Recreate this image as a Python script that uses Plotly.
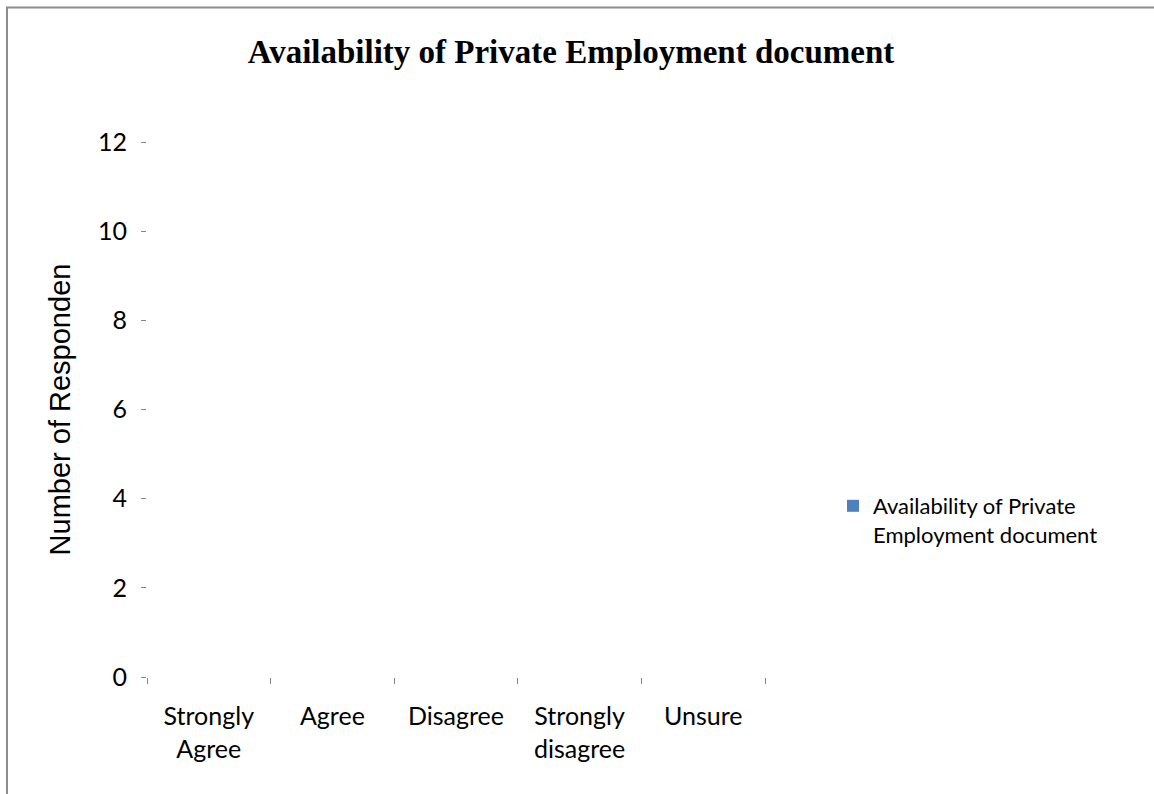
import plotly.graph_objects as go

# Survey responses on the availability of the private employment document
categories = ["Strongly<br>Agree", "Agree", "Disagree", "Strongly<br>disagree", "Unsure"]
responses = [0, 0, 0, 0, 0]
series_name = "Availability of Private<br>Employment document"
y_ticks = [0, 2, 4, 6, 8, 10, 12]

W, H = 1154, 794
L, R, T, B = 147, 389, 142, 117
pw, ph = W - L - R, H - T - B

fig = go.Figure(
    go.Bar(
        x=categories,
        y=responses,
        name=series_name,
        marker=dict(color="#4F81BD", line=dict(width=0)),
        width=0.6,
        showlegend=True,
    )
)

tick_font = dict(family="Lato", size=25, color="black")
axis_grey = "#868686"

fig.update_layout(
    width=W,
    height=H,
    margin=dict(l=L, r=R, t=T, b=B, autoexpand=False),
    paper_bgcolor="white",
    plot_bgcolor="white",
    title=dict(
        text="<b>Availability of Private Employment document</b>",
        font=dict(family="Liberation Serif", size=33, color="black"),
        x=571 / W,
        xanchor="center",
        y=1 - 51 / H,
        yanchor="middle",
    ),
    showlegend=True,
    legend=dict(
        x=(833 - L) / pw,
        xanchor="left",
        y=1 - (485 - T) / ph,
        yanchor="top",
        valign="top",
        font=dict(family="Lato", size=22, color="black"),
        bgcolor="rgba(0,0,0,0)",
        tracegroupgap=0,
    ),
    xaxis=dict(
        type="category",
        tickson="boundaries",
        ticks="outside",
        ticklen=6,
        tickwidth=1,
        tickcolor=axis_grey,
        showline=False,
        showgrid=False,
        zeroline=False,
        tickfont=tick_font,
        ticklabelstandoff=22,
    ),
    yaxis=dict(
        range=[0, 12],
        tickvals=y_ticks,
        ticks="outside",
        ticklen=5,
        tickwidth=1,
        tickcolor=axis_grey,
        showline=False,
        showgrid=False,
        zeroline=False,
        tickfont=tick_font,
        ticklabelstandoff=9,
        title=dict(
            text="Number of Responden",
            font=dict(family="Liberation Sans", size=29, color="black"),
            standoff=18,
        ),
    ),
    shapes=[
        dict(
            type="rect",
            xref="paper",
            yref="paper",
            x0=(7 - L) / pw,
            x1=(W + 20 - L) / pw,
            y0=-(B + 20) / ph,
            y1=1 + (T - 7.5) / ph,
            line=dict(color="#8c8c8c", width=2),
            layer="below",
        )
    ],
)

fig.write_html("out.html")
